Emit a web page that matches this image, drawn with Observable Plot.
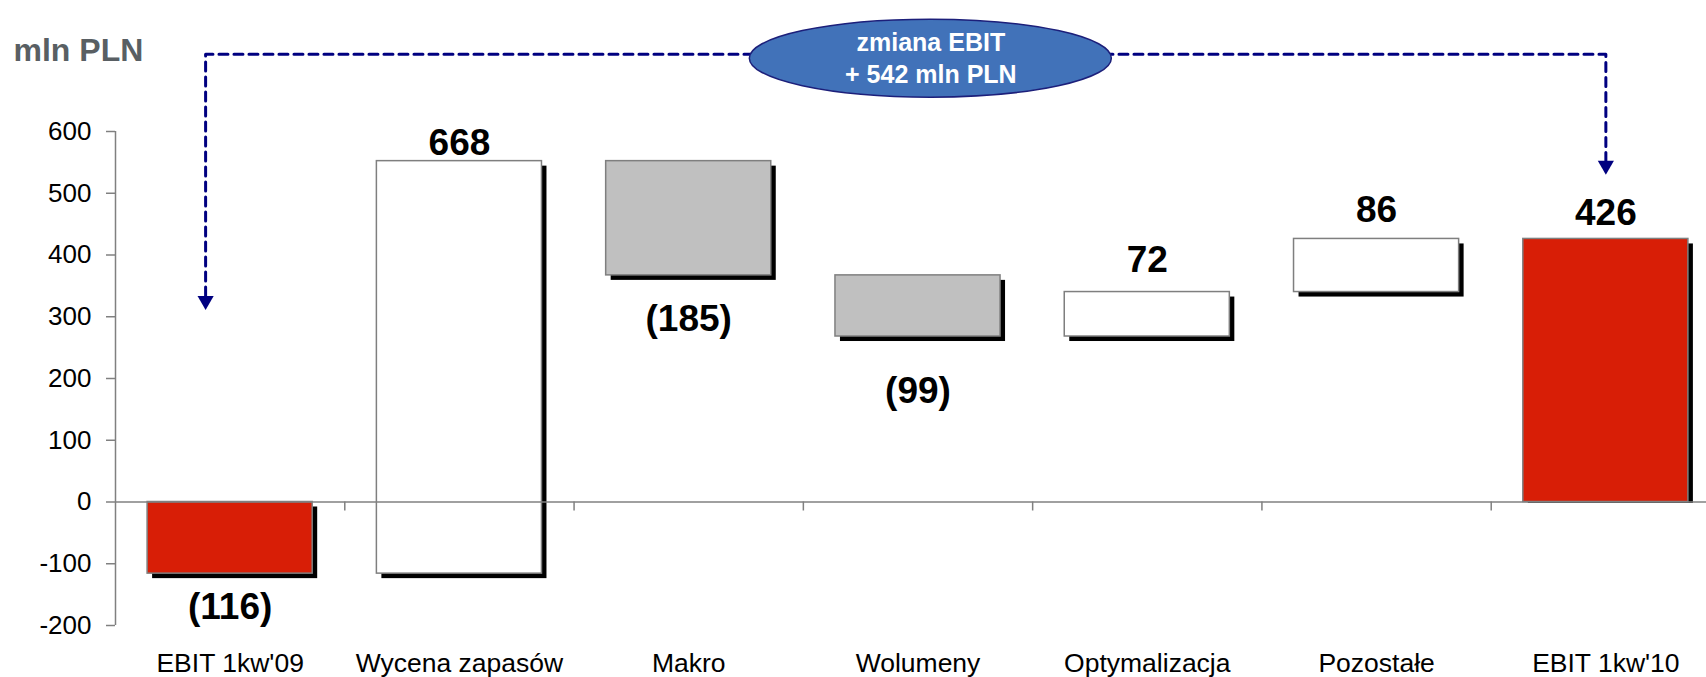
<!DOCTYPE html>
<html>
<head>
<meta charset="utf-8">
<script src="https://cdn.jsdelivr.net/npm/d3@7"></script>
<script src="https://cdn.jsdelivr.net/npm/@observablehq/plot@0.6"></script>
<style>
  html, body { margin: 0; padding: 0; background: #ffffff; }
  #chart { width: 1706px; height: 677px; overflow: hidden; }
</style>
</head>
<body>
<div id="chart"></div>
<script>
// ---- data ----
const categories = ["EBIT 1kw'09", "Wycena zapasów", "Makro", "Wolumeny", "Optymalizacja", "Pozostałe", "EBIT 1kw'10"];
const values = [-116, 668, -185, -99, 72, 86, 426];
const kinds = ["total", "delta", "delta", "delta", "delta", "delta", "total"];
const valueLabels = ["(116)", "668", "(185)", "(99)", "72", "86", "426"];
const yTicks = [-200, -100, 0, 100, 200, 300, 400, 500, 600];
const unitTitle = "mln PLN";
const changeTitle = "zmiana EBIT";

// ---- layout ----
const W = 1706, H = 677;
const xRange = [115, 1720];
const yRange = [625, 131];
const yDomain = [-200, 600];
const pxPerUnit = (yRange[0] - yRange[1]) / (yDomain[1] - yDomain[0]);
const barHalf = 0.36;
const shadowPx = 5;
const labelGap = [34, 18, 44, 55, 32, 29, 26];
const bracket = {left: -0.107, right: 6.0, top: 725, leftTip: 311, rightTip: 530};
const ellipse = {x: 3.056, y: 718, rx: 181, ry: 39};
const navy = "#000080";
const font = "'Liberation Sans', Arial, Helvetica, sans-serif";

// ---- build waterfall rows ----
let running = 0;
const rows = categories.map((c, i) => {
  let y1, y2;
  if (kinds[i] === "total") { y1 = 0; y2 = values[i]; running = values[i]; }
  else { y1 = running; y2 = running + values[i]; running = y2; }
  const fill = kinds[i] === "total" ? "#d81e06" : (values[i] >= 0 ? "#ffffff" : "#c0c0c0");
  const neg = values[i] < 0;
  const lo = Math.min(y1, y2), hi = Math.max(y1, y2);
  const sOff = shadowPx / pxPerUnit;
  const shadowLo = (kinds[i] === "total" && !neg) ? lo - 1.5 / pxPerUnit : lo - sOff;
  return {i, c, y1, y2, fill, label: valueLabels[i],
          sy1: shadowLo, sy2: hi - sOff,
          ly: neg ? lo - labelGap[i] / pxPerUnit : hi + labelGap[i] / pxPerUnit};
});
const change = values[values.length - 1] - values[0];
const arrowLen = 14 / pxPerUnit;
const bracketPts = [
  {x: bracket.left, y: bracket.leftTip + arrowLen},
  {x: bracket.left, y: bracket.top},
  {x: bracket.right, y: bracket.top},
  {x: bracket.right, y: bracket.rightTip + arrowLen}
];
const arrowPts = [
  {x: bracket.left, y: bracket.leftTip},
  {x: bracket.right, y: bracket.rightTip}
];
const boundaries = d3.range(0.5, categories.length - 1, 1);

function ellipseMark(index, scales) {
  const g = d3.create("svg:g");
  g.append("ellipse")
    .attr("cx", scales.x(ellipse.x))
    .attr("cy", scales.y(ellipse.y))
    .attr("rx", ellipse.rx)
    .attr("ry", ellipse.ry)
    .attr("fill", "#4172b9")
    .attr("stroke", "#1c1f7a")
    .attr("stroke-width", 1.5);
  return g.node();
}

const chart = Plot.plot({
  width: W,
  height: H,
  marginTop: yRange[1],
  marginBottom: H - yRange[0],
  marginLeft: xRange[0],
  marginRight: 0,
  style: {fontFamily: font, background: "#ffffff", overflow: "visible"},
  x: {type: "linear", domain: [-0.5, categories.length - 0.5], range: xRange, axis: null},
  y: {domain: yDomain, range: yRange},
  marks: [
    // shadows
    Plot.rectY(rows, {x1: d => d.i - barHalf, x2: d => d.i + barHalf, y1: "sy1", y2: "sy2", fill: "#000000", dx: shadowPx}),
    // bars
    Plot.rectY(rows, {x1: d => d.i - barHalf, x2: d => d.i + barHalf, y1: "y1", y2: "y2", fill: "fill", stroke: "#7f7f7f", strokeWidth: 1.5}),
    // axis lines
    Plot.ruleX([-0.5], {y1: yDomain[0], y2: yDomain[1], stroke: "#808080", strokeWidth: 1.5}),
    Plot.ruleY([0], {x1: -0.5, x2: categories.length - 0.5, stroke: "#808080", strokeWidth: 1.5}),
    Plot.ruleX(boundaries, {x: d => d, y1: 0, y2: -9 / pxPerUnit, stroke: "#808080", strokeWidth: 1.5}),
    Plot.axisY({ticks: yTicks, tickSize: 9, tickPadding: 15, fontSize: 26, stroke: "#808080", strokeWidth: 1.5, fill: "#000000", label: null, tickFormat: d => String(d)}),
    // category labels
    Plot.text(categories, {x: (d, i) => i, frameAnchor: "bottom", lineAnchor: "bottom", dy: 46, text: d => d, fontSize: 26.5, fill: "#000000"}),
    // value labels
    Plot.text(rows, {x: "i", y: "ly", text: "label", fontSize: 37, fontWeight: "bold", fill: "#000000", lineAnchor: "middle"}),
    // bracket annotation
    Plot.line(bracketPts, {x: "x", y: "y", stroke: navy, strokeWidth: 3, strokeDasharray: "9,6", curve: "linear"}),
    Plot.dot(arrowPts, {x: "x", y: "y", symbol: "triangle", rotate: 180, r: 6, fill: navy, stroke: "none", dy: -9.3}),
    ellipseMark,
    Plot.text([`${changeTitle}\n+ ${change} ${unitTitle}`], {x: () => ellipse.x, y: () => ellipse.y, text: d => d, dy: -2, fontSize: 25, fontWeight: "bold", fill: "#ffffff", lineHeight: 1.28, lineAnchor: "middle"}),
    // unit title
    Plot.text([unitTitle], {frameAnchor: "top-left", dx: -102, dy: -71, textAnchor: "start", lineAnchor: "bottom", fontSize: 32, fontWeight: "bold", fill: "#595f63", text: d => d})
  ]
});
document.getElementById("chart").appendChild(chart);
</script>
</body>
</html>
